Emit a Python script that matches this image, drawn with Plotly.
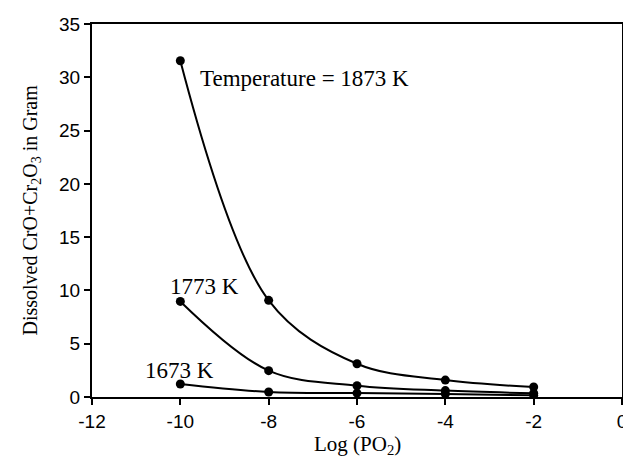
import plotly.graph_objects as go

x_vals = [-10, -8, -6, -4, -2]
y_1873 = [31.55, 9.07, 3.12, 1.59, 0.94]
y_1773 = [8.97, 2.47, 1.06, 0.6, 0.35]
y_1673 = [1.22, 0.47, 0.37, 0.28, 0.16]
x_ticks = [-12, -10, -8, -6, -4, -2, 0]
y_ticks = [0, 5, 10, 15, 20, 25, 30, 35]

fig = go.Figure()
for ys in (y_1873, y_1773, y_1673):
    fig.add_trace(go.Scatter(
        x=x_vals, y=ys, mode="lines+markers",
        line=dict(color="black", width=2, shape="spline", smoothing=1.0),
        marker=dict(color="black", size=9),
        showlegend=False, hoverinfo="skip"))

serif = "Liberation Serif, Times New Roman, serif"
fig.add_annotation(x=-9.6, y=29.9, text="Temperature = 1873 K", showarrow=False,
                   xanchor="left", yanchor="middle", font=dict(family=serif, size=23, color="black"))
fig.add_annotation(x=-10.28, y=10.4, text="1773 K", showarrow=False,
                   xanchor="left", yanchor="middle", font=dict(family=serif, size=23, color="black"))
fig.add_annotation(x=-10.85, y=2.5, text="1673 K", showarrow=False,
                   xanchor="left", yanchor="middle", font=dict(family=serif, size=23, color="black"))

# axis titles
fig.add_annotation(xref="paper", yref="paper", x=0.5, y=0, text="Log (PO<sub>2</sub>)",
                   showarrow=False, xanchor="center", yanchor="middle", yshift=-48,
                   font=dict(family=serif, size=21, color="black"))
fig.add_annotation(xref="paper", yref="paper", x=0, y=0.5,
                   text="Dissolved CrO+Cr<sub>2</sub>O<sub>3</sub> in Gram",
                   showarrow=False, xanchor="center", yanchor="middle", xshift=-61, textangle=-90,
                   font=dict(family=serif, size=20, color="black"))

axis_common = dict(showgrid=False, zeroline=False, showline=True, linecolor="black",
                   linewidth=2, mirror=True, ticks="outside", ticklen=6, tickwidth=1.5,
                   tickcolor="black", automargin=False,
                   tickfont=dict(family="Liberation Sans, Arial, sans-serif", size=19, color="black"))

fig.update_xaxes(range=[-12, 0], tickvals=x_ticks, ticktext=[str(v) for v in x_ticks],
                 **axis_common)
fig.update_yaxes(range=[0, 35], tickvals=y_ticks, ticktext=[str(v) for v in y_ticks],
                 **axis_common)

fig.update_layout(width=631, height=457, margin=dict(l=84, r=17, t=16, b=68),
                  plot_bgcolor="white", paper_bgcolor="white")

fig.write_html("out.html")
